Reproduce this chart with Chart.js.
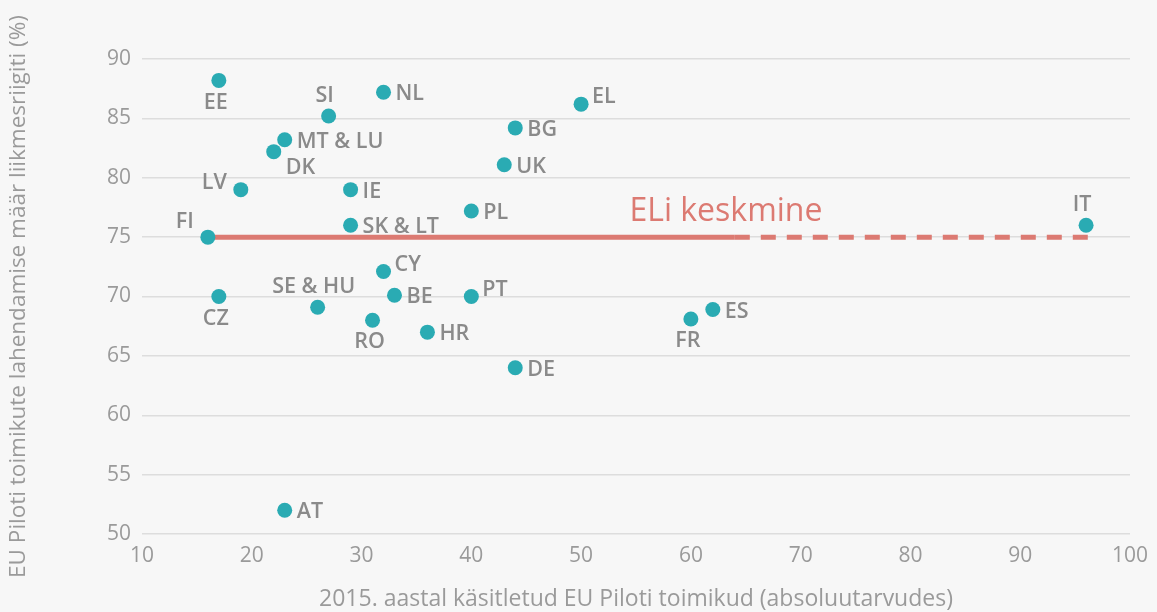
<!DOCTYPE html>
<html><head><meta charset="utf-8">
<script src="https://cdn.jsdelivr.net/npm/chart.js@4/dist/chart.umd.min.js"></script>
<style>
html,body{margin:0;padding:0;background:#f7f7f7;}
#wrap{width:1157px;height:612px;position:relative;}
canvas{display:block;}
</style>
</head><body><div id="wrap"><canvas id="c" width="1157" height="612"></canvas></div>
<script>
const countries = ['EE','SI','NL','MT & LU','DK','LV','IE','FI','SK & LT','CY','EL','BG','UK','PL','PT','IT','CZ','SE & HU','RO','BE','HR','DE','FR','ES','AT'];
const casesHandled = [17,27,32,23,22,19,29,16,29,32,50,44,43,40,40,96,17,26,31,33,36,44,60,62,23];
const resolutionRate = [88.2,85.2,87.2,83.2,82.2,79,79,75,76,72.1,86.2,84.2,81.1,77.2,70,76,70,69.1,68,70.1,67,64,68.1,68.9,52];
const labelPlacement = ['below','above','right','right','belowRight','left','right','aboveLeft','right','rightUp','rightUp','right','right','right','rightUp','above','below','above','below','right','right','right','below','right','right'];
const xTicks = [10,20,30,40,50,60,70,80,90,100];
const yTicks = [50,55,60,65,70,75,80,85,90];
const euAverageRate = 75;
const euAverageSolid = [16, 64];
const euAverageDashed = [64, 96.3];
const euAverageLabel = 'ELi keskmine';
const xTitle = '2015. aastal käsitletud EU Piloti toimikud (absoluutarvudes)';
const yTitle = 'EU Piloti toimikute lahendamise määr liikmesriigiti (%)';

const FONT = "'Open Sans', 'DejaVu Sans', sans-serif";
const TEAL = '#2aabb3';
const RED = '#dc7a72';
const GREY = '#9a9a9a';
const LABEL_GREY = '#8a8a8a';

const placements = {
  right:      {align:'left',   dx: 12, dy: 1},
  rightUp:    {align:'left',   dx: 11, dy: -8},
  below:      {align:'center', dx: -3, dy: 21},
  above:      {align:'center', dx: -4, dy: -21},
  left:       {align:'right',  dx: -14, dy: -8},
  aboveLeft:  {align:'right',  dx: -14, dy: -16},
  belowRight: {align:'left',   dx: 12, dy: 15}
};
const avgLabelAnchor = {x: 54.4, y: 76.4};

const pointLabels = {
  id: 'pointLabels',
  afterDatasetsDraw(chart) {
    const ctx = chart.ctx;
    const xs = chart.scales.x, ys = chart.scales.y;
    ctx.save();
    ctx.font = `600 21.5px ${FONT}`;
    ctx.fillStyle = LABEL_GREY;
    ctx.textBaseline = 'middle';
    countries.forEach((name, i) => {
      const p = placements[labelPlacement[i]];
      const px = xs.getPixelForValue(casesHandled[i]);
      const py = ys.getPixelForValue(resolutionRate[i]);
      ctx.textAlign = p.align;
      ctx.fillText(name, px + p.dx, py + p.dy + 1);
    });
    ctx.font = `400 32px ${FONT}`;
    ctx.fillStyle = RED;
    ctx.textAlign = 'left';
    ctx.textBaseline = 'alphabetic';
    ctx.fillText(euAverageLabel, xs.getPixelForValue(avgLabelAnchor.x), ys.getPixelForValue(avgLabelAnchor.y));
    ctx.restore();
  }
};

new Chart(document.getElementById('c'), {
  type: 'scatter',
  data: {
    datasets: [
      {
        label: 'countries',
        data: countries.map((c, i) => ({x: casesHandled[i], y: resolutionRate[i]})),
        backgroundColor: TEAL,
        borderWidth: 0,
        pointRadius: 7.5,
        order: 0
      },
      {
        label: 'avgSolid',
        data: euAverageSolid.map(x => ({x, y: euAverageRate})),
        showLine: true,
        borderColor: RED,
        borderWidth: 5,
        pointRadius: 0,
        borderCapStyle: 'butt',
        order: 1
      },
      {
        label: 'avgDashed',
        data: euAverageDashed.map(x => ({x, y: euAverageRate})),
        showLine: true,
        borderColor: RED,
        borderWidth: 5,
        borderDash: [15, 11],
        pointRadius: 0,
        borderCapStyle: 'butt',
        order: 1
      }
    ]
  },
  options: {
    responsive: false,
    animation: false,
    events: [],
    layout: {padding: {top: 59, right: 23, left: 0, bottom: 0}},
    plugins: {legend: {display: false}, tooltip: {enabled: false}},
    scales: {
      x: {
        type: 'linear',
        min: 10, max: 100,
        afterFit(s) { s.height = 78; },
        afterBuildTicks(s) { s.ticks = xTicks.map(v => ({value: v})); },
        grid: {display: false, drawTicks: false},
        border: {display: false},
        ticks: {font: {family: FONT, size: 21, weight: 400}, color: GREY, padding: 9, maxRotation: 0, autoSkip: false},
        title: {display: true, text: xTitle, font: {family: FONT, size: 23, weight: 400}, color: GREY, padding: {top: 0, bottom: -1}}
      },
      y: {
        type: 'linear',
        min: 50, max: 90,
        afterFit(s) { s.width = 142; },
        afterBuildTicks(s) { s.ticks = yTicks.map(v => ({value: v})); },
        grid: {color: '#dddddd', lineWidth: 1.5, drawTicks: false},
        border: {display: false},
        ticks: {font: {family: FONT, size: 21, weight: 400}, color: GREY, padding: 11, autoSkip: false},
        title: {display: true, text: yTitle, font: {family: FONT, size: 22.5, weight: 400}, color: GREY, padding: {top: 5, bottom: 0}}
      }
    }
  },
  plugins: [pointLabels]
});
</script>
</body></html>
